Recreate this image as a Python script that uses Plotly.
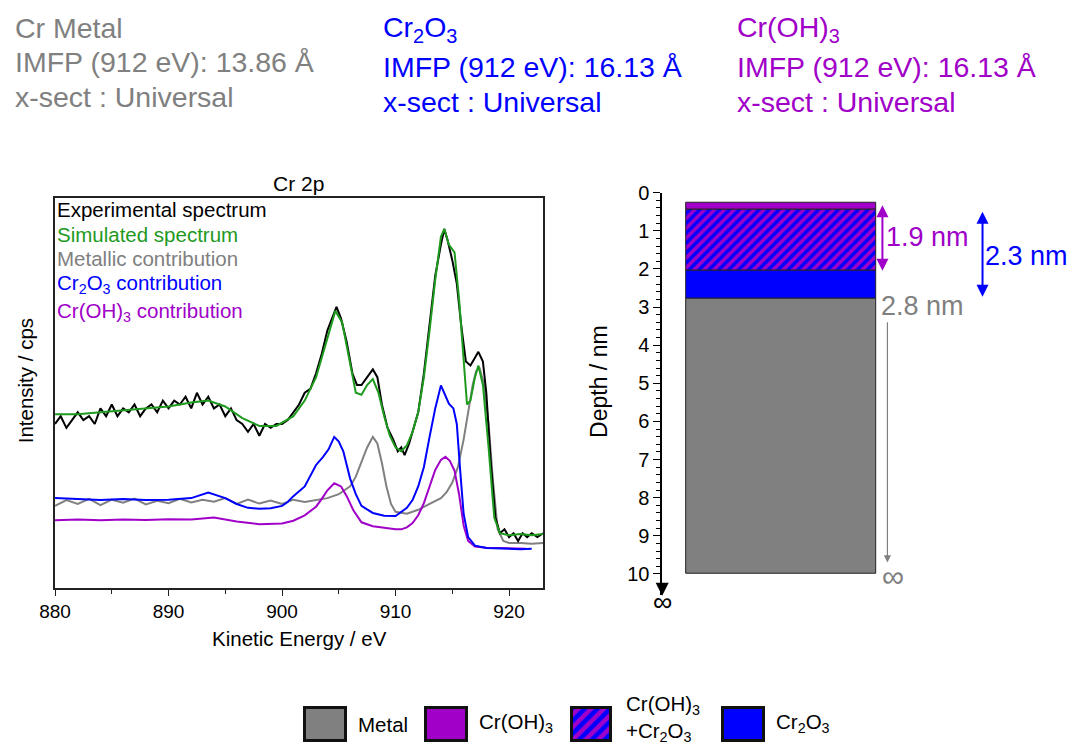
import plotly.graph_objects as go

W, H = 1070, 745
FONT = "Liberation Sans, Arial, sans-serif"

GRAY = "#808080"
BLUE = "#0000FF"
PURPLE = "#A000C8"
GREEN = "#1E9A1E"

# ---------------- spectrum data (Kinetic energy / eV, intensity arb.) -------------
E_exp = [880, 880.5, 881, 881.5, 882, 882.5, 883, 883.5, 884, 884.5, 885, 885.5, 886, 886.5,
         887, 887.5, 888, 888.5, 889, 889.5, 890, 890.5, 891, 891.5, 892, 892.5, 893, 893.5,
         894, 894.5, 895, 895.5, 896, 896.5, 897, 897.5, 898, 898.5, 899, 899.5, 900, 900.5,
         901, 901.5, 902, 902.5, 903, 903.5, 904, 904.5, 904.8, 905.2, 905.7, 906.2, 906.6,
         907, 907.5, 908, 908.4, 908.8, 909.3, 909.8, 910.2, 910.5, 910.8, 911.2, 911.6, 912,
         912.5, 913, 913.5, 914, 914.3, 914.6, 915, 915.4, 915.8, 916.2, 916.6, 917, 917.3,
         917.7, 918, 918.4, 918.8, 919.2, 919.6, 920, 920.4, 920.8, 921.2, 921.6, 922, 922.5, 923]
I_exp = [42, 44, 41, 43, 45, 43, 44, 42, 46, 44, 47, 44, 46, 45,
         47, 44, 46, 47, 45, 48, 46, 48, 47, 49, 46, 50, 47, 49,
         46, 47, 44, 46, 43, 42, 40, 42, 39, 42, 41, 42, 42, 43,
         45, 47, 50, 51, 55, 60, 66, 70, 72, 69, 63, 55, 52,
         52, 54, 56, 54, 47, 41, 38, 35, 36, 34, 37, 41, 45,
         55, 68, 80, 88, 92, 89, 84, 78, 67, 58, 57, 59, 60.5,
         58, 50, 32, 18, 14, 15, 13, 14, 12, 14, 13, 14, 13, 14]

E_sim = [880, 882, 884, 886, 888, 890, 892, 893.5, 895, 896.5, 898, 899.5, 901, 902, 903, 904,
         904.7, 905.3, 906, 906.5, 907, 907.5, 908, 908.5, 909, 909.5, 910, 910.5, 911, 911.5,
         912, 912.5, 913, 913.5, 914, 914.3, 914.7, 915.2, 915.6, 916, 916.3, 916.6, 917, 917.3,
         917.7, 918.2, 918.7, 919.2, 920, 921, 922, 923]
I_sim = [44.5, 44.5, 45, 45.5, 46, 46.5, 47.5, 48, 46.5, 43.5, 41.5, 41.5, 44, 48, 54, 64,
         71, 68, 58, 50, 49.5, 52, 53.5, 50, 44, 39, 36, 35, 36.5, 40,
         45, 54, 66, 79, 90, 92, 88, 86, 74, 58, 47, 48, 54, 57,
         52, 36, 18, 14, 13.5, 13.8, 13.5, 13.8]

E_metal = [880, 881, 882, 883, 884, 885, 886, 887, 888, 889, 890, 891, 892, 893, 894, 895,
           896, 897, 898, 899, 900, 901, 902, 903, 904, 905, 906,
           906.5, 907, 907.5, 908, 908.4, 908.8, 909.2, 909.6, 910, 911, 912, 913, 914, 914.5,
           915, 915.5, 916, 916.4, 916.8, 917.1, 917.4, 917.8, 918.2, 918.6, 919, 919.5, 920,
           921, 922, 923]
I_metal = [21, 22.5, 21.5, 22.8, 21.2, 22.6, 21.8, 22.9, 21.4, 22.3, 21.7, 22.8, 21.9, 22.6,
           22.1, 23, 21.5, 22.6, 21.6, 22.4, 21.5, 22.6, 22, 22.5, 23, 24, 26,
           28.5, 32, 36, 38.7, 37, 32, 26, 21.5, 19.5, 19, 20, 21.5, 23, 24.5,
           27, 31, 38, 45, 52, 55.5, 56.5, 52, 42, 27, 15, 12, 11.5,
           11.5, 11.3, 11.5]

E_ox = [880, 882, 884, 886, 888, 890, 892, 893.5, 895, 896, 897, 898, 899, 900, 900.5, 901,
        902, 903, 903.6, 904.1, 904.6, 905, 905.4, 906, 906.5, 907, 908, 909, 910, 911, 911.5,
        912, 912.5, 913, 913.5, 914, 914.3, 914.7, 915.1, 915.4, 915.7, 916, 916.4, 917, 918,
        919, 920, 921, 922]
I_ox = [23, 22.8, 22.5, 22.8, 22.5, 22.6, 23, 24.4, 23, 21.5, 20.5, 20.3, 20.4, 21, 22, 23.5,
        26, 31.5, 33.5, 35.5, 38.7, 37.5, 35, 28, 24, 21, 19.2, 18.5, 18.4, 20.5, 22.5,
        26, 31, 38.7, 46, 51.9, 50, 47.2, 46, 42, 30, 19, 13, 10.8, 10.2,
        10.1, 10, 9.9, 10]

E_hyd = [880, 882, 884, 886, 888, 890, 892, 894, 896, 898, 900, 901, 902, 903, 903.5, 904,
         904.6, 905.2, 905.7, 906.3, 907, 908, 909, 910, 910.5, 911, 911.5, 912, 912.5, 913,
         913.5, 914, 914.4, 914.8, 915.2, 915.6, 916, 916.4, 917, 918, 919, 920, 921.5]
I_hyd = [17.3, 17.5, 17.3, 17.5, 17.4, 17.6, 17.5, 18, 17, 16.3, 16.5, 17.2, 18.6, 20.8, 22.8, 25,
         26.8, 26, 23.5, 19.8, 16.8, 15.8, 15.4, 15, 15, 15.5, 16.6, 18.6, 21.7, 26,
         30.2, 32.8, 33.6, 32.5, 30, 24, 16, 12, 10.6, 10.3, 10.2, 10.1, 10]

# ---------------- depth profile data (nm) -------------
layer_names = ["Cr(OH)3", "Cr(OH)3+Cr2O3", "Cr2O3", "Metal"]
layer_top = [0.27, 0.45, 2.05, 2.77]
layer_bottom = [0.45, 2.05, 2.77, 10.0]
thick_hyd = 1.9
thick_ox = 2.3
depth_metal = 2.8

depth_ticks = list(range(0, 11))
depth_minor = [round(i * 0.2, 1) for i in range(0, 51) if i % 5 != 0]

legend_labels = ["Metal", "Cr(OH)<sub>3</sub>", "Cr(OH)<sub>3</sub><br>+Cr<sub>2</sub>O<sub>3</sub>",
                 "Cr<sub>2</sub>O<sub>3</sub>"]


# ---- layout helpers: target picture pixel -> figure pixel (calibrated page offset/scale)
def X(p):
    return (p - 16.5) / 0.984


def Y(p):
    return (p - 12.3) / 0.985


TXT = 3.5  # left padding of annotation boxes


def px(p):
    return X(p) / W


def py(p):
    return 1 - Y(p) / H


AX0 = 662  # picture-pixel x of depth axis


def x2(p):
    return X(p) - X(AX0)


fig = go.Figure()

# spectra (drawn bottom to top)
spec = [
    (E_metal, I_metal, GRAY, "Metallic contribution"),
    (E_hyd, I_hyd, PURPLE, "Cr(OH)3 contribution"),
    (E_ox, I_ox, BLUE, "Cr2O3 contribution"),
    (E_exp, I_exp, "black", "Experimental spectrum"),
    (E_sim, I_sim, GREEN, "Simulated spectrum"),
]
for e, i, c, n in spec:
    fig.add_trace(go.Scatter(x=e, y=i, mode="lines", line=dict(color=c, width=2),
                             name=n, showlegend=False, xaxis="x", yaxis="y"))

HATCH = dict(shape="/", fgcolor=PURPLE, bgcolor=BLUE, size=7, solidity=0.5, fillmode="replace")

# depth layers
layer_style = {
    "Cr(OH)3": dict(color=PURPLE),
    "Cr(OH)3+Cr2O3": dict(color=BLUE, pattern=HATCH),
    "Cr2O3": dict(color=BLUE),
    "Metal": dict(color=GRAY),
}
bar_c = (x2(686) + x2(876)) / 2
bar_w = x2(876) - x2(686)
for name, t, b in zip(layer_names, layer_top, layer_bottom):
    m = dict(layer_style[name])
    m["line"] = dict(color="#222222", width=1)
    fig.add_trace(go.Bar(x=[bar_c], y=[b - t], base=[t], width=[bar_w], marker=m,
                         name=name, showlegend=False, xaxis="x2", yaxis="y2"))

# legend swatches (decoration in figure-pixel space)
sw_l = [305, 426, 572, 723]
sw_r = [346, 467, 611, 764]
sw_top, sw_bot = Y(709), Y(742)
sw_c = [(X(a) + X(b)) / 2 for a, b in zip(sw_l, sw_r)]
sw_w = [X(b) - X(a) for a, b in zip(sw_l, sw_r)]
for k, col in [(0, GRAY), (1, PURPLE), (3, BLUE)]:
    fig.add_trace(go.Bar(
        x=[sw_c[k]], y=[sw_bot - sw_top], base=[sw_top], width=[sw_w[k]],
        marker=dict(color=col, line=dict(color="#111111", width=3)),
        showlegend=False, xaxis="x3", yaxis="y3", hoverinfo="skip"))
fig.add_trace(go.Bar(
    x=[sw_c[2]], y=[sw_bot - sw_top], base=[sw_top], width=[sw_w[2]],
    marker=dict(color=BLUE, line=dict(color="#111111", width=3), pattern=dict(HATCH, size=9)),
    showlegend=False, xaxis="x3", yaxis="y3", hoverinfo="skip"))

ann = []


def text(x, y, t, size, color, xanchor="left", yanchor="middle", **kw):
    xx = X(x) - (TXT if xanchor == "left" else 0)
    ann.append(dict(x=xx / W, y=py(y), xref="paper", yref="paper", text=t, showarrow=False,
                    xanchor=xanchor, yanchor=yanchor,
                    font=dict(family=FONT, size=size, color=color), **kw))


HF = 28.5
# header texts
text(16.5, 29, "Cr Metal", HF, GRAY)
text(16.5, 63, "IMFP (912 eV): 13.86 Å", HF, GRAY)
text(16.5, 98, "x-sect : Universal", HF, GRAY)
text(385, 30, "Cr<sub>2</sub>O<sub>3</sub>", HF, BLUE)
text(385, 68, "IMFP (912 eV): 16.13 Å", HF, BLUE)
text(385, 103, "x-sect : Universal", HF, BLUE)
text(738, 30, "Cr(OH)<sub>3</sub>", HF, PURPLE)
text(738, 68, "IMFP (912 eV): 16.13 Å", HF, PURPLE)
text(738, 103, "x-sect : Universal", HF, PURPLE)

# spectrum panel texts
LF = 20.5
text(299, 185, "Cr 2p", 21, "black", xanchor="center")
text(59, 211, "Experimental spectrum", LF, "black")
text(59, 236, "Simulated spectrum", LF, GREEN)
text(59, 260, "Metallic contribution", LF, GRAY)
text(59, 285, "Cr<sub>2</sub>O<sub>3</sub> contribution", LF, BLUE)
text(59, 313, "Cr(OH)<sub>3</sub> contribution", LF, PURPLE)
text(300, 640, "Kinetic Energy / eV", 20.5, "black", xanchor="center")
text(26, 382, "Intensity / cps", 20.5, "black", xanchor="center", textangle=-90)

# depth panel texts
text(599, 383, "Depth / nm", 23, "black", xanchor="center", textangle=-90)
text(AX0, 603, "∞", 27, "black", xanchor="center")
text(893, 578, "∞", 31, GRAY, xanchor="center")
ann.append(dict(x=px(AX0), y=py(597), xref="paper", yref="paper", ax=0, ay=-13,
                showarrow=True, arrowhead=2, arrowsize=1.3, arrowwidth=2, arrowcolor="black", text=""))

for xp, y0, y1, col, wdt, side in [(882, 0.29, 2.05, PURPLE, 2, "end+start"),
                                   (982, 0.46, 2.73, BLUE, 2, "end+start"),
                                   (887, 3.36, 9.7, GRAY, 1.2, "end")]:
    ann.append(dict(x=x2(xp), y=y1, ax=x2(xp), ay=y0, xref="x2", yref="y2",
                    axref="x2", ayref="y2", showarrow=True, arrowhead=2, arrowsize=1.2,
                    arrowwidth=wdt, arrowcolor=col, arrowside=side, text=""))
for xp, d, t, col in [(887, 1.16, f"{thick_hyd} nm", PURPLE),
                      (986, 1.65, f"{thick_ox} nm", BLUE),
                      (882, 2.97, f"{depth_metal} nm", GRAY)]:
    ann.append(dict(x=(X(xp) - TXT) / W, y=d, xref="paper", yref="y2", text=t, showarrow=False,
                    xanchor="left", yanchor="middle", font=dict(family=FONT, size=27, color=col)))

# bottom legend labels
text(360, 726, legend_labels[0], 20.5, "black")
text(480, 724, legend_labels[1], 20.5, "black")
text(627, 720, legend_labels[2], 20.5, "black", align="left")
text(777, 724, legend_labels[3], 20.5, "black")

fig.update_layout(
    width=W, height=H, margin=dict(l=0, r=0, t=0, b=0),
    paper_bgcolor="white", plot_bgcolor="rgba(0,0,0,0)",
    barmode="overlay", bargap=0,
    font=dict(family=FONT, color="black"),
    annotations=ann,
    xaxis=dict(domain=[px(55.5), px(543)], range=[880, 923], anchor="y",
               showline=True, mirror=True, linecolor="#222222", linewidth=1.5,
               showgrid=False, zeroline=False, ticks="outside", ticklen=6, tickwidth=1.2,
               tickcolor="#222222", dtick=10, tick0=880,
               minor=dict(dtick=5, ticks="outside", ticklen=4, tickcolor="#222222"),
               tickfont=dict(size=19, family=FONT)),
    yaxis=dict(domain=[py(589), py(199)], range=[0, 100], anchor="x",
               showline=True, mirror=True, linecolor="#222222", linewidth=1.5,
               showgrid=False, zeroline=False, showticklabels=False, ticks=""),
    xaxis2=dict(domain=[px(AX0), 1], range=[0, W - X(AX0)], anchor="y2", visible=False),
    yaxis2=dict(domain=[py(596), py(194)], range=[10.55, 0], anchor="x2",
                showline=True, linecolor="black", linewidth=1.5, showgrid=False, zeroline=False,
                ticks="outside", ticklen=7, tickwidth=1.3, tickcolor="black",
                tickmode="array", tickvals=depth_ticks,
                minor=dict(tickmode="array", tickvals=depth_minor, ticks="outside",
                           ticklen=4, tickcolor="black", showgrid=False),
                tickfont=dict(size=20, family=FONT)),
    xaxis3=dict(domain=[0, 1], range=[0, W], anchor="y3", visible=False),
    yaxis3=dict(domain=[0, 1], range=[H, 0], anchor="x3", visible=False),
)

fig.write_html("out.html")
